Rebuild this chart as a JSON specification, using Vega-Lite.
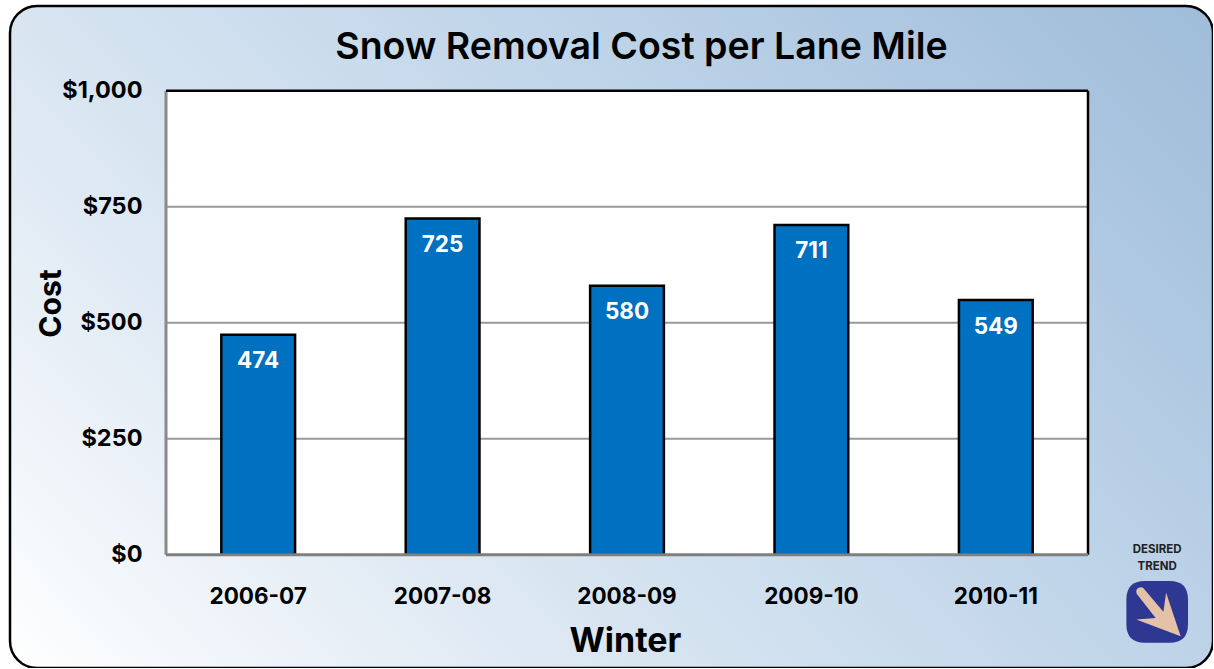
{
"$schema":"https://vega.github.io/schema/vega-lite/v6.json",
"width":1203,"height":662,
"autosize":"none",
"padding":{"left":10,"top":6,"right":0,"bottom":0},
"background":"#ffffff",
"title":{"text":"Snow Removal Cost per Lane Mile","font":"Inter","fontSize":37.5,"fontWeight":600,"color":"#000000","anchor":"middle","dx":30,"offset":-90,"baseline":"alphabetic"},
"config":{"view":{"cornerRadius":27,"stroke":"#000000","strokeWidth":2.5,"fill":{"gradient":"linear","x1":0,"y1":1,"x2":1.19,"y2":0.36,"stops":[{"offset":0,"color":"#ffffff"},{"offset":0.1,"color":"#f3f7fb"},{"offset":0.2,"color":"#e8eff7"},{"offset":0.35,"color":"#d8e5f1"},{"offset":0.65,"color":"#bdd3e8"},{"offset":1,"color":"#9fbcd9"}]}}},
"datasets":{
"costs":[{"winter":"2006-07","cost":474},{"winter":"2007-08","cost":725},{"winter":"2008-09","cost":580},{"winter":"2009-10","cost":711},{"winter":"2010-11","cost":549}],
"grid":[{"level":250,"from":"2006-07","to":"2010-11"},{"level":500,"from":"2006-07","to":"2010-11"},{"level":750,"from":"2006-07","to":"2010-11"}]
},
"layer":[
{"data":{"values":[{"from":"2006-07","to":"2010-11"}]},
 "mark":{"type":"rect","fill":"#ffffff"},
 "encoding":{
  "x":{"field":"from","type":"nominal","bandPosition":0,"title":"Winter","scale":{"domain":["2006-07","2007-08","2008-09","2009-10","2010-11","Desired trend"],"range":[156,1262.4],"padding":0},
   "axis":{"values":["2006-07","2007-08","2008-09","2009-10","2010-11"],"offset":-114,"labelAngle":0,"labelFont":"Inter","labelFontSize":22.5,"labelFontWeight":700,"labelColor":"#000000","labelPadding":31,"ticks":false,"domain":false,"grid":false,"titleFont":"Inter","titleFontSize":34,"titleFontWeight":700,"titleColor":"#000000","titleX":615,"titleY":70}},
  "x2":{"field":"to","bandPosition":1},
  "y":{"datum":0,"type":"quantitative","title":"Cost","scale":{"domain":[0,1000],"range":[548.8,84.8],"nice":false,"zero":true},
   "axis":{"values":[0,250,500,750,1000],"format":"$,.0f","offset":-156,"labelFont":"Inter","labelFontSize":23.5,"labelFontWeight":700,"labelColor":"#000000","labelPadding":24,"ticks":false,"domain":false,"grid":false,"titleFont":"Inter","titleFontSize":30,"titleFontWeight":700,"titleColor":"#000000","titleX":-100,"titleY":297}},
  "y2":{"datum":1000}
 }},
{"data":{"name":"grid"},
 "mark":{"type":"rule","stroke":"#999999","strokeWidth":2},
 "encoding":{"y":{"field":"level","type":"quantitative","title":"Cost"},"x":{"field":"from","type":"nominal","bandPosition":0,"title":"Winter"},"x2":{"field":"to","bandPosition":1}}},
{"data":{"name":"costs"},
 "mark":{"type":"bar","fill":"#0070c0","stroke":"#000000","strokeWidth":2.5,"width":{"band":0.4}},
 "encoding":{"x":{"field":"winter","type":"nominal","title":"Winter"},"y":{"field":"cost","type":"quantitative","title":"Cost"}}},
{"data":{"name":"costs"},
 "mark":{"type":"text","color":"#ffffff","font":"Inter","fontSize":22.5,"fontWeight":700,"baseline":"middle","dy":26.5},
 "encoding":{"x":{"field":"winter","type":"nominal","title":"Winter"},"y":{"field":"cost","type":"quantitative","title":"Cost"},"text":{"field":"cost","type":"quantitative"}}},
{"data":{"values":[{"edge":"2006-07","low":0,"high":1000}]},
 "mark":{"type":"rule","stroke":"#8a8a8a","strokeWidth":3},
 "encoding":{"x":{"field":"edge","type":"nominal","bandPosition":0,"title":"Winter"},"y":{"field":"low","type":"quantitative","title":"Cost"},"y2":{"field":"high"}}},
{"data":{"values":[{"edge":"2010-11","low":0,"high":1000}]},
 "mark":{"type":"rule","stroke":"#000000","strokeWidth":2.5},
 "encoding":{"x":{"field":"edge","type":"nominal","bandPosition":1,"title":"Winter"},"y":{"field":"low","type":"quantitative","title":"Cost"},"y2":{"field":"high"}}},
{"data":{"values":[{"from":"2006-07","to":"2010-11","level":1000}]},
 "mark":{"type":"rule","stroke":"#000000","strokeWidth":2.5},
 "encoding":{"y":{"field":"level","type":"quantitative","title":"Cost"},"x":{"field":"from","type":"nominal","bandPosition":0,"title":"Winter"},"x2":{"field":"to","bandPosition":1}}},
{"data":{"values":[{"from":"2006-07","to":"2010-11","level":0}]},
 "mark":{"type":"rule","stroke":"#7f7f7f","strokeWidth":3},
 "encoding":{"y":{"field":"level","type":"quantitative","title":"Cost"},"x":{"field":"from","type":"nominal","bandPosition":0,"title":"Winter"},"x2":{"field":"to","bandPosition":1}}},
{"data":{"values":[{"label":"DESIRED","level":10},{"label":"TREND","level":-27}]},
 "mark":{"type":"text","font":"Inter","fontSize":11.5,"fontWeight":700,"color":"#222222","xOffset":-23,"baseline":"middle"},
 "encoding":{"x":{"datum":"Desired trend","title":"Winter"},"y":{"field":"level","type":"quantitative","title":"Cost"},"text":{"field":"label"}}},
{"data":{"values":[{"part":"badge"}]},
 "mark":{"type":"point","filled":true,"fill":"#2e3791","opacity":1,"size":3800,"xOffset":-23,"shape":"M -1 -0.4 Q -1 -1 -0.4 -1 L 0.4 -1 Q 1 -1 1 -0.4 L 1 0.4 Q 1 1 0.4 1 L -0.4 1 Q -1 1 -1 0.4 Z"},
 "encoding":{"x":{"datum":"Desired trend","title":"Winter"},"y":{"datum":-123,"title":"Cost"}}},
{"data":{"values":[{"part":"arrow"}]},
 "mark":{"type":"point","filled":true,"fill":"#e3c2a8","opacity":1,"size":3800,"xOffset":-23,"shape":"M -0.46 -0.78 L 0.2 0 L 0.29 -0.62 L 0.76 0.79 L -0.68 0.25 L -0.05 0.2 L -0.66 -0.58 Q -0.72 -0.72 -0.6 -0.78 Q -0.5 -0.82 -0.46 -0.78 Z"},
 "encoding":{"x":{"datum":"Desired trend","title":"Winter"},"y":{"datum":-123,"title":"Cost"}}}
]
}
